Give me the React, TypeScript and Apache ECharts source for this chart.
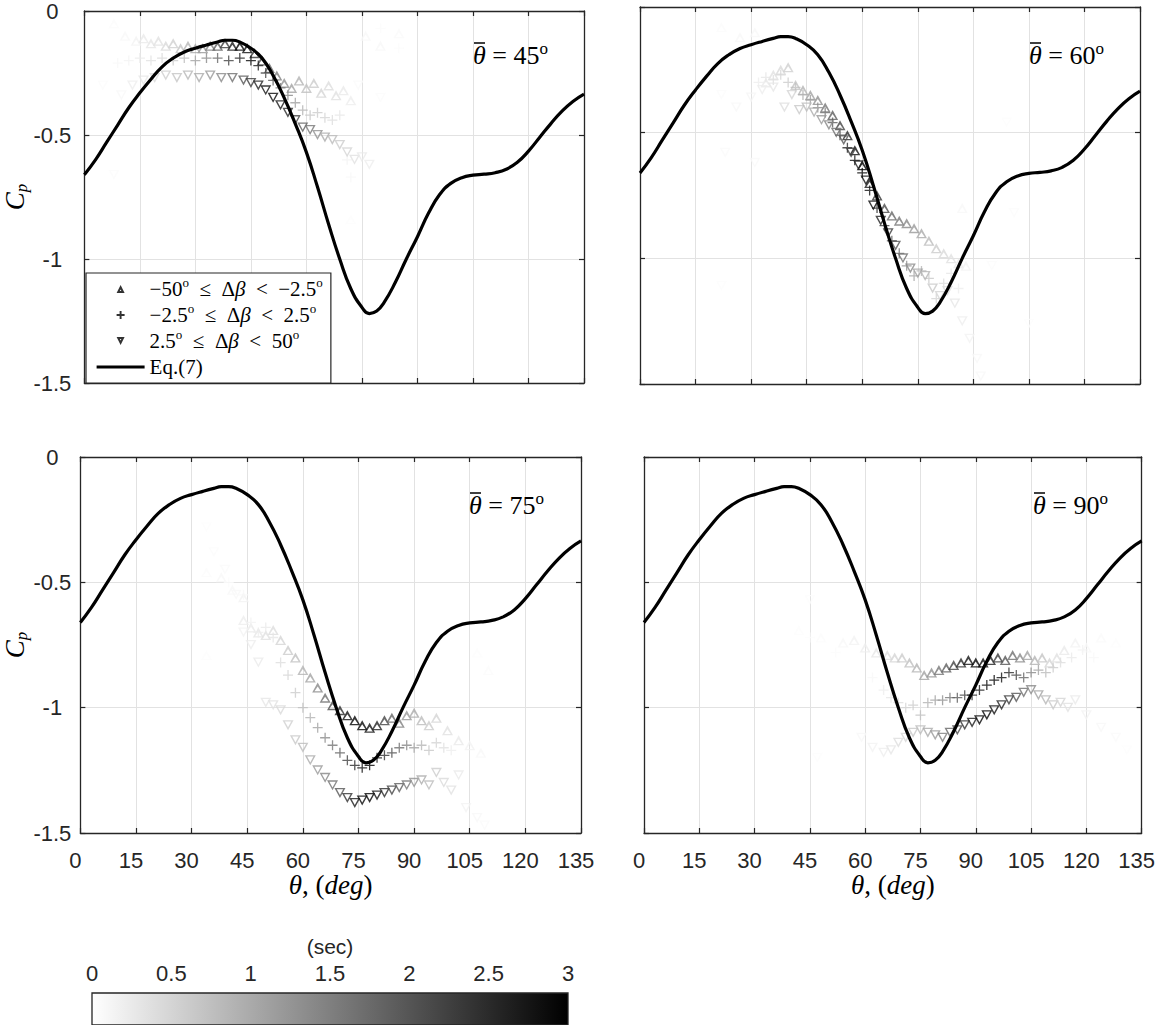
import React, { useEffect, useRef } from 'react';
import * as echarts from 'echarts';

// ---------------- data ----------------
const panelAngles = [45, 60, 75, 90];
const THETA_MIN = 0;
const THETA_MAX = 135;
const THETA_STEP = 15;
const CP_MIN = -1.5;
const CP_MAX = 0;
const CP_STEP = 0.5;
const TIME_MIN = 0;
const TIME_MAX = 3;
const TIME_STEP = 0.5;

// Eq.(7) curve
const curveTheta = [0, 3, 6, 9, 12, 15, 18, 21, 24, 27, 30, 33, 36, 38, 40, 42, 45, 48, 51, 54, 57, 60, 63, 66, 69, 72, 75, 77, 79, 81, 84, 87, 90, 93, 96, 99, 102, 105, 108, 111, 114, 117, 120, 123, 126, 129, 132, 135];
const curveCp = [-0.66, -0.6, -0.53, -0.46, -0.39, -0.33, -0.275, -0.225, -0.19, -0.165, -0.15, -0.137, -0.125, -0.118, -0.118, -0.125, -0.15, -0.19, -0.26, -0.35, -0.455, -0.57, -0.71, -0.86, -1.0, -1.12, -1.195, -1.22, -1.21, -1.175, -1.095, -1.0, -0.91, -0.815, -0.74, -0.695, -0.672, -0.662, -0.658, -0.652, -0.638, -0.61, -0.565, -0.51, -0.455, -0.405, -0.365, -0.335];

// [theta (deg), Cp, time (sec)]
const p45Up = [[8, -0.05, 0.05], [11, -0.1, 0.08], [14, -0.12, 0.15], [16, -0.11, 0.25], [18, -0.13, 0.3], [20, -0.12, 0.35], [22, -0.14, 0.45], [24, -0.13, 0.55], [26, -0.15, 0.7], [28, -0.14, 0.85], [30, -0.15, 1.0], [32, -0.15, 1.2], [34, -0.14, 1.5], [36, -0.14, 1.9], [38, -0.13, 2.3], [40, -0.14, 2.7], [42, -0.14, 2.95], [44, -0.15, 2.8], [46, -0.17, 2.4], [48, -0.2, 2.1], [50, -0.23, 1.8], [52, -0.26, 1.5], [54, -0.29, 1.3], [56, -0.31, 1.1], [58, -0.28, 0.9], [60, -0.31, 0.75], [62, -0.29, 0.6], [64, -0.33, 0.5], [66, -0.3, 0.4], [68, -0.34, 0.35], [70, -0.32, 0.25], [72, -0.36, 0.2], [76, -0.1, 0.1], [80, -0.14, 0.08], [85, -0.09, 0.06], [72, -0.84, 0.04]];
const p45Plus = [[9, -0.21, 0.1], [12, -0.2, 0.15], [15, -0.19, 0.25], [18, -0.2, 0.35], [21, -0.19, 0.45], [24, -0.2, 0.6], [27, -0.19, 0.8], [30, -0.2, 1.1], [33, -0.19, 1.4], [36, -0.19, 1.8], [39, -0.2, 2.2], [42, -0.19, 2.6], [45, -0.2, 2.9], [47, -0.22, 2.6], [49, -0.25, 2.2], [51, -0.28, 1.9], [53, -0.31, 1.6], [55, -0.34, 1.4], [57, -0.37, 1.1], [59, -0.4, 0.9], [61, -0.42, 0.7], [63, -0.41, 0.6], [65, -0.43, 0.5], [67, -0.44, 0.4], [69, -0.42, 0.3], [71, -0.6, 0.15], [72, -0.67, 0.1], [80, -0.07, 0.05], [85, -0.15, 0.05]];
const p45Down = [[5, -0.3, 0.05], [8, -0.66, 0.05], [10, -0.34, 0.1], [13, -0.3, 0.2], [16, -0.28, 0.3], [19, -0.27, 0.45], [22, -0.26, 0.55], [25, -0.27, 0.7], [28, -0.26, 0.85], [31, -0.27, 1.0], [34, -0.26, 1.2], [37, -0.27, 1.4], [40, -0.27, 1.7], [43, -0.28, 2.0], [45, -0.29, 2.3], [47, -0.3, 2.6], [49, -0.32, 2.8], [51, -0.35, 2.9], [53, -0.38, 2.7], [55, -0.41, 2.5], [57, -0.44, 2.2], [59, -0.47, 1.9], [61, -0.48, 1.6], [63, -0.5, 1.3], [65, -0.51, 1.0], [67, -0.52, 0.8], [69, -0.54, 0.6], [71, -0.57, 0.5], [73, -0.6, 0.35], [75, -0.59, 0.25], [77, -0.62, 0.2], [74, -0.3, 0.06], [80, -0.35, 0.05]];

const p60Up = [[22, -0.08, 0.05], [27, -0.12, 0.08], [31, -0.1, 0.1], [34, -0.3, 0.25], [36, -0.27, 0.35], [38, -0.25, 0.45], [40, -0.24, 0.55], [42, -0.31, 0.7], [44, -0.33, 0.9], [46, -0.35, 1.1], [48, -0.37, 1.3], [50, -0.4, 1.6], [52, -0.43, 1.9], [54, -0.47, 2.2], [56, -0.51, 2.5], [58, -0.57, 2.8], [60, -0.63, 2.95], [62, -0.7, 2.7], [64, -0.75, 2.4], [66, -0.8, 2.1], [68, -0.83, 1.8], [70, -0.85, 1.6], [72, -0.86, 1.4], [74, -0.88, 1.2], [76, -0.9, 1.0], [78, -0.93, 0.8], [80, -0.96, 0.6], [82, -0.98, 0.45], [84, -1.0, 0.35], [86, -1.02, 0.25], [87, -0.8, 0.1], [88, -1.03, 0.15]];
const p60Plus = [[32, -0.3, 0.2], [34, -0.28, 0.3], [36, -0.29, 0.4], [38, -0.27, 0.5], [40, -0.3, 0.6], [42, -0.32, 0.75], [44, -0.35, 0.95], [46, -0.37, 1.15], [48, -0.4, 1.35], [50, -0.42, 1.6], [52, -0.46, 1.9], [54, -0.51, 2.2], [56, -0.56, 2.5], [58, -0.61, 2.8], [60, -0.66, 2.95], [62, -0.73, 2.8], [64, -0.8, 2.5], [66, -0.87, 2.2], [68, -0.93, 1.9], [70, -0.98, 1.6], [72, -1.03, 1.3], [74, -1.07, 1.05], [76, -1.05, 0.85], [78, -1.08, 0.65], [80, -1.16, 0.5], [82, -1.1, 0.4], [84, -1.06, 0.3], [86, -1.12, 0.2]];
const p60Down = [[22, -0.35, 0.05], [23, -0.58, 0.06], [22, -1.11, 0.04], [26, -0.4, 0.08], [31, -0.62, 0.07], [30, -0.36, 0.12], [33, -0.33, 0.2], [36, -0.32, 0.3], [39, -0.4, 0.4], [41, -0.35, 0.5], [43, -0.41, 0.65], [45, -0.4, 0.8], [47, -0.42, 1.0], [49, -0.45, 1.2], [51, -0.47, 1.45], [53, -0.5, 1.7], [55, -0.53, 2.0], [57, -0.58, 2.3], [59, -0.63, 2.6], [61, -0.69, 2.8], [63, -0.79, 2.9], [65, -0.85, 2.6], [67, -0.9, 2.3], [69, -0.95, 2.0], [71, -1.0, 1.7], [73, -1.04, 1.4], [75, -1.06, 1.1], [77, -1.07, 0.85], [79, -1.12, 0.65], [81, -1.15, 0.5], [83, -1.13, 0.4], [85, -1.18, 0.3], [87, -1.25, 0.2], [89, -1.32, 0.15], [91, -1.4, 0.1], [92, -1.47, 0.08], [95, -1.03, 0.05], [101, -0.82, 0.05], [99, -0.46, 0.04], [105, -1.26, 0.04]];

const p75Up = [[34, -0.46, 0.05], [34, -0.79, 0.04], [38, -0.48, 0.08], [41, -0.53, 0.1], [44, -0.56, 0.15], [44, -0.65, 0.2], [46, -0.68, 0.25], [48, -0.7, 0.3], [50, -0.71, 0.35], [52, -0.69, 0.4], [54, -0.73, 0.5], [56, -0.77, 0.6], [58, -0.8, 0.75], [60, -0.85, 0.9], [62, -0.88, 1.1], [64, -0.92, 1.4], [66, -0.96, 1.7], [68, -0.99, 2.1], [70, -1.01, 2.5], [72, -1.03, 2.8], [74, -1.05, 2.95], [76, -1.07, 2.9], [78, -1.08, 2.8], [80, -1.07, 2.6], [82, -1.05, 2.2], [84, -1.04, 1.8], [86, -1.06, 1.5], [88, -1.03, 1.2], [90, -1.02, 1.0], [92, -1.05, 0.8], [94, -1.07, 0.6], [96, -1.04, 0.5], [99, -1.09, 0.35], [102, -1.13, 0.25], [105, -1.15, 0.15], [108, -1.18, 0.1], [110, -0.85, 0.05], [107, -0.78, 0.04]];
const p75Plus = [[40, -0.5, 0.05], [44, -0.55, 0.08], [46, -0.66, 0.15], [48, -0.7, 0.2], [50, -0.68, 0.25], [52, -0.72, 0.3], [54, -0.82, 0.4], [56, -0.87, 0.5], [58, -0.94, 0.6], [60, -1.0, 0.75], [62, -1.04, 0.9], [64, -1.08, 1.1], [66, -1.12, 1.35], [68, -1.15, 1.6], [70, -1.18, 1.9], [72, -1.21, 2.2], [74, -1.23, 2.5], [76, -1.24, 2.8], [78, -1.23, 2.95], [80, -1.2, 2.7], [82, -1.19, 2.4], [84, -1.18, 2.1], [86, -1.16, 1.7], [88, -1.15, 1.4], [90, -1.16, 1.1], [92, -1.15, 0.85], [94, -1.17, 0.65], [96, -1.14, 0.5], [98, -1.16, 0.35], [100, -1.17, 0.2]];
const p75Down = [[34, -0.28, 0.04], [36, -0.38, 0.05], [39, -0.45, 0.06], [42, -0.55, 0.08], [44, -0.7, 0.15], [46, -0.75, 0.2], [48, -0.82, 0.25], [50, -0.98, 0.3], [52, -0.99, 0.35], [54, -1.01, 0.45], [56, -1.07, 0.55], [58, -1.13, 0.65], [60, -1.16, 0.8], [62, -1.21, 1.0], [64, -1.25, 1.2], [66, -1.28, 1.45], [68, -1.31, 1.7], [70, -1.34, 2.0], [72, -1.36, 2.4], [74, -1.38, 2.7], [76, -1.37, 2.9], [78, -1.36, 2.95], [80, -1.35, 2.8], [82, -1.34, 2.5], [84, -1.33, 2.2], [86, -1.32, 1.9], [88, -1.31, 1.6], [90, -1.3, 1.3], [92, -1.29, 1.0], [94, -1.31, 0.8], [96, -1.26, 0.6], [98, -1.3, 0.45], [100, -1.33, 0.35], [102, -1.27, 0.25], [104, -1.4, 0.15], [107, -1.44, 0.1], [109, -1.47, 0.06]];

const p90Up = [[42, -0.69, 0.03], [48, -0.72, 0.05], [54, -0.74, 0.08], [57, -0.73, 0.15], [60, -0.76, 0.2], [63, -0.78, 0.3], [66, -0.79, 0.4], [68, -0.8, 0.5], [70, -0.8, 0.6], [72, -0.82, 0.75], [74, -0.84, 0.9], [76, -0.87, 1.1], [78, -0.86, 1.3], [80, -0.85, 1.6], [82, -0.84, 1.9], [84, -0.83, 2.2], [86, -0.82, 2.5], [88, -0.81, 2.8], [90, -0.82, 2.95], [92, -0.82, 2.85], [94, -0.81, 2.6], [96, -0.8, 2.3], [98, -0.81, 2.0], [100, -0.79, 1.7], [102, -0.8, 1.4], [104, -0.79, 1.1], [106, -0.81, 0.9], [108, -0.8, 0.7], [110, -0.82, 0.5], [112, -0.8, 0.35], [114, -0.77, 0.25], [117, -0.74, 0.15], [120, -0.76, 0.1], [124, -0.72, 0.06], [128, -0.74, 0.04]];
const p90Plus = [[45, -0.72, 0.04], [52, -0.78, 0.05], [62, -0.88, 0.1], [65, -0.93, 0.2], [67, -0.96, 0.3], [69, -0.98, 0.4], [71, -1.0, 0.5], [73, -0.99, 0.6], [75, -1.03, 0.75], [77, -0.98, 0.9], [79, -0.97, 1.1], [81, -0.97, 1.3], [83, -0.96, 1.6], [85, -0.96, 1.9], [87, -0.95, 2.2], [89, -0.95, 2.5], [91, -0.93, 2.7], [93, -0.91, 2.9], [95, -0.89, 2.95], [97, -0.88, 2.8], [99, -0.86, 2.5], [101, -0.87, 2.2], [103, -0.88, 1.8], [105, -0.86, 1.4], [107, -0.85, 1.1], [109, -0.86, 0.8], [111, -0.84, 0.6], [113, -0.82, 0.4], [116, -0.8, 0.25], [119, -0.77, 0.15], [122, -0.8, 0.08]];
const p90Down = [[45, -0.57, 0.03], [47, -1.2, 0.04], [59, -1.12, 0.08], [62, -1.16, 0.15], [65, -1.18, 0.2], [67, -1.17, 0.3], [69, -1.14, 0.4], [71, -1.12, 0.5], [73, -1.1, 0.65], [75, -1.09, 0.8], [77, -1.1, 1.0], [79, -1.11, 1.2], [81, -1.12, 1.5], [83, -1.1, 1.8], [85, -1.09, 2.1], [87, -1.07, 2.4], [89, -1.06, 2.7], [91, -1.05, 2.9], [93, -1.03, 2.95], [95, -1.01, 2.8], [97, -0.99, 2.6], [99, -0.97, 2.3], [101, -0.96, 2.0], [103, -0.94, 1.7], [105, -0.93, 1.4], [107, -0.95, 1.1], [109, -0.97, 0.85], [111, -0.99, 0.65], [113, -0.98, 0.5], [115, -1.0, 0.35], [117, -0.97, 0.25], [120, -1.03, 0.15], [124, -1.08, 0.1], [128, -1.12, 0.06], [131, -1.17, 0.04]];

const panelData = [
  [p45Up, p45Plus, p45Down],
  [p60Up, p60Plus, p60Down],
  [p75Up, p75Plus, p75Down],
  [p90Up, p90Plus, p90Down],
];
const seriesNames = ['A', 'B', 'C'];
const CURVE_NAME = 'Eq.(7)';

// ---------------- styles / layout ----------------
const GRIDS = [
  { left: 84, top: 7, width: 500, height: 376 },
  { left: 640, top: 7, width: 500, height: 377 },
  { left: 80, top: 457, width: 501, height: 376 },
  { left: 644, top: 457, width: 499, height: 376 },
];
const CBAR = { left: 92, top: 993, width: 476, height: 32 };
const AXIS_COLOR = '#262626';
const GRID_COLOR = '#e2e2e2';
const SANS = "'Liberation Sans', Arial, Helvetica, sans-serif";
const SERIF = "'Liberation Serif', 'Times New Roman', serif";

const SYM_UP = 'path://M0,10L10,10L5,0Z M5,4L7.9,8.7L2.1,8.7Z';
const SYM_DOWN = 'path://M0,0L10,0L5,10Z M2.1,1.3L5,7.09L7.9,1.3Z';
const SYM_PLUS = 'path://M4.35,0H5.65V4.35H10V5.65H5.65V10H4.35V5.65H0V4.35H4.35Z';
const LEG_UP = 'path://M0,10L10,10L5,0Z M5,5.6L5.95,7.5L4.05,7.5Z';
const LEG_DOWN = 'path://M0,0L10,0L5,10Z M4.05,2.5L5,4.4L5.95,2.5Z';
const LEG_PLUS = 'path://M3.8,0H6.2V3.8H10V6.2H6.2V10H3.8V6.2H0V3.8H3.8Z';
const symbols = [SYM_UP, SYM_PLUS, SYM_DOWN];
const symbolSizes: any[] = [[11, 10], 10, [11, 10]];

const SP = '\u2002';
const LEGEND_TEXT: Record<string, string> = {
  A: `{m|−50}{s|o}{m|${SP}≤${SP}Δ}{i|β}{m|${SP}<${SP}−2.5}{s|o}`,
  B: `{m|−2.5}{s|o}{m|${SP}≤${SP}Δ}{i|β}{m|${SP}<${SP}2.5}{s|o}`,
  C: `{m|2.5}{s|o}{m|${SP}≤${SP}Δ}{i|β}{m|${SP}<${SP}50}{s|o}`,
  [CURVE_NAME]: '{m|Eq.(7)}',
};

function buildOption(): any {
  const tick = { show: true, inside: true, length: 5, lineStyle: { color: AXIS_COLOR, width: 1.2 } };
  const axisLine = { show: true, onZero: false, lineStyle: { color: AXIS_COLOR, width: 1.3 } };
  const split = { show: true, showMinLine: false, showMaxLine: false, lineStyle: { color: GRID_COLOR, width: 1 } };
  const nameRich = {
    i: { fontFamily: SERIF, fontStyle: 'italic', fontSize: 27, lineHeight: 30, verticalAlign: 'middle', color: '#000' },
    n: { fontFamily: SERIF, fontSize: 27, lineHeight: 30, verticalAlign: 'middle', color: '#000' },
    b: { fontFamily: SERIF, fontStyle: 'italic', fontSize: 17, lineHeight: 8, verticalAlign: 'bottom', color: '#000' },
  };

  const xAxes: any[] = [];
  const yAxes: any[] = [];
  const grids: any[] = [];
  GRIDS.forEach((g, i) => {
    const bottomRow = i >= 2;
    const leftCol = i % 2 === 0;
    grids.push({ ...g, containLabel: false });
    xAxes.push({
      type: 'value', gridIndex: i, min: THETA_MIN, max: THETA_MAX, interval: THETA_STEP, position: 'bottom',
      axisLine, axisTick: tick, splitLine: split,
      axisLabel: { show: bottomRow, margin: 16, fontFamily: SANS, fontSize: 22, color: AXIS_COLOR, padding: [0, 10, 0, 0] },
      name: bottomRow ? '{i|θ}{n|, (}{i|deg}{n|)}' : '', nameLocation: 'middle', nameGap: 37,
      nameTextStyle: { rich: nameRich },
    });
    xAxes.push({
      type: 'value', gridIndex: i, min: THETA_MIN, max: THETA_MAX, interval: THETA_STEP, position: 'top',
      axisLine, axisTick: tick, splitLine: { show: false }, axisLabel: { show: false },
    });
    yAxes.push({
      type: 'value', gridIndex: i, min: CP_MIN, max: CP_MAX, interval: CP_STEP, position: 'left',
      axisLine, axisTick: tick, splitLine: split,
      axisLabel: { show: leftCol, align: 'center', margin: g.left - 52, fontFamily: SANS, fontSize: 22, color: AXIS_COLOR, showMinLabel: true, showMaxLabel: true },
      name: leftCol ? '{i|C}{b|p}' : '', nameLocation: 'middle', nameRotate: 90, nameGap: g.left - 40,
      nameTextStyle: { rich: nameRich },
    });
    yAxes.push({
      type: 'value', gridIndex: i, min: CP_MIN, max: CP_MAX, interval: CP_STEP, position: 'right',
      axisLine, axisTick: tick, splitLine: { show: false }, axisLabel: { show: false },
    });
  });

  // colorbar
  grids.push({
    ...CBAR, show: true, borderColor: AXIS_COLOR, borderWidth: 1.3,
    backgroundColor: new echarts.graphic.LinearGradient(0, 0, 1, 0, [
      { offset: 0, color: '#ffffff' },
      { offset: 1, color: '#000000' },
    ]),
  });
  xAxes.push({
    type: 'value', gridIndex: 4, min: TIME_MIN, max: TIME_MAX, interval: TIME_STEP, position: 'top',
    axisLine: { show: false }, splitLine: { show: false },
    axisTick: { show: true, inside: true, length: 4, lineStyle: { color: AXIS_COLOR, width: 1.2 } },
    axisLabel: { margin: 9, fontFamily: SANS, fontSize: 22, color: AXIS_COLOR },
    name: '(sec)', nameLocation: 'middle', nameGap: 36,
    nameTextStyle: { fontFamily: SANS, fontSize: 21, color: AXIS_COLOR },
  });
  yAxes.push({ type: 'value', gridIndex: 4, min: 0, max: 1, show: false });

  const series: any[] = [];
  panelData.forEach((sets, i) => {
    sets.forEach((d, k) => {
      series.push({
        type: 'scatter', name: seriesNames[k], xAxisIndex: 2 * i, yAxisIndex: 2 * i,
        data: d, symbol: symbols[k], symbolSize: symbolSizes[k],
        itemStyle: { color: '#000' }, z: 2, silent: true,
      });
    });
  });
  const scatterCount = series.length;
  GRIDS.forEach((_, i) => {
    series.push({
      type: 'line', name: CURVE_NAME, xAxisIndex: 2 * i, yAxisIndex: 2 * i,
      data: curveTheta.map((t, j) => [t, curveCp[j]]),
      smooth: true, showSymbol: false, symbol: 'none',
      lineStyle: { color: '#000', width: 3.2 }, itemStyle: { color: '#000' }, z: 3, silent: true,
    });
  });

  const titleRich = {
    i: { fontFamily: SERIF, fontStyle: 'italic', fontSize: 26, lineHeight: 30, verticalAlign: 'middle', color: '#000' },
    m: { fontFamily: SERIF, fontSize: 26, lineHeight: 30, verticalAlign: 'middle', color: '#000' },
    s: { fontFamily: SERIF, fontSize: 17, lineHeight: 22, verticalAlign: 'top', color: '#000' },
  };
  const graphic: any[] = [];
  GRIDS.forEach((g, i) => {
    const x = g.left + 389;
    graphic.push({
      type: 'text', x, y: g.top + 48, z: 100, silent: true,
      style: { text: `{i|θ}{m| = ${panelAngles[i]}}{s|o}`, rich: titleRich, align: 'left', verticalAlign: 'middle', fill: '#000' },
    });
    graphic.push({
      type: 'line', z: 100, silent: true,
      shape: { x1: x + 1, y1: g.top + 36, x2: x + 12, y2: g.top + 36 },
      style: { stroke: '#000', lineWidth: 1.5 },
    });
  });

  return {
    animation: false,
    backgroundColor: '#ffffff',
    grid: grids,
    xAxis: xAxes,
    yAxis: yAxes,
    series,
    graphic,
    visualMap: {
      type: 'continuous', show: false, min: TIME_MIN, max: TIME_MAX, dimension: 2,
      seriesIndex: Array.from({ length: scatterCount }, (_, j) => j),
      inRange: { color: ['#ffffff', '#000000'] },
    },
    legend: {
      left: 86, top: 273, orient: 'vertical', padding: [3, 8, 3, 9], itemGap: 0,
      itemWidth: 48, itemHeight: 8, selectedMode: false,
      backgroundColor: '#ffffff', borderColor: AXIS_COLOR, borderWidth: 1.2, borderRadius: 0,
      data: [
        { name: 'A', icon: LEG_UP, itemStyle: { color: '#000' } },
        { name: 'B', icon: LEG_PLUS, itemStyle: { color: '#000' } },
        { name: 'C', icon: LEG_DOWN, itemStyle: { color: '#000' } },
        { name: CURVE_NAME, itemStyle: { opacity: 0 }, lineStyle: { color: '#000', width: 3.2 } },
      ],
      formatter: (name: string) => LEGEND_TEXT[name] || name,
      textStyle: {
        fontFamily: SERIF, fontSize: 21, color: '#000', lineHeight: 26,
        rich: {
          m: { fontFamily: SERIF, fontSize: 21, lineHeight: 26, verticalAlign: 'middle', color: '#000' },
          i: { fontFamily: SERIF, fontStyle: 'italic', fontSize: 21, lineHeight: 26, verticalAlign: 'middle', color: '#000' },
          s: { fontFamily: SERIF, fontSize: 13, lineHeight: 16, verticalAlign: 'top', color: '#000' },
        },
      },
    },
  };
}

export default function App() {
  const ref = useRef<HTMLDivElement>(null);
  useEffect(() => {
    document.body.style.margin = '0';
    const chart = echarts.init(ref.current as HTMLDivElement, undefined, { renderer: 'svg' });
    chart.setOption(buildOption());
    return () => chart.dispose();
  }, []);
  return (
    <div
      ref={ref}
      style={{ position: 'fixed', left: 0, top: 0, width: 1158, height: 1025, background: '#fff' }}
    />
  );
}
